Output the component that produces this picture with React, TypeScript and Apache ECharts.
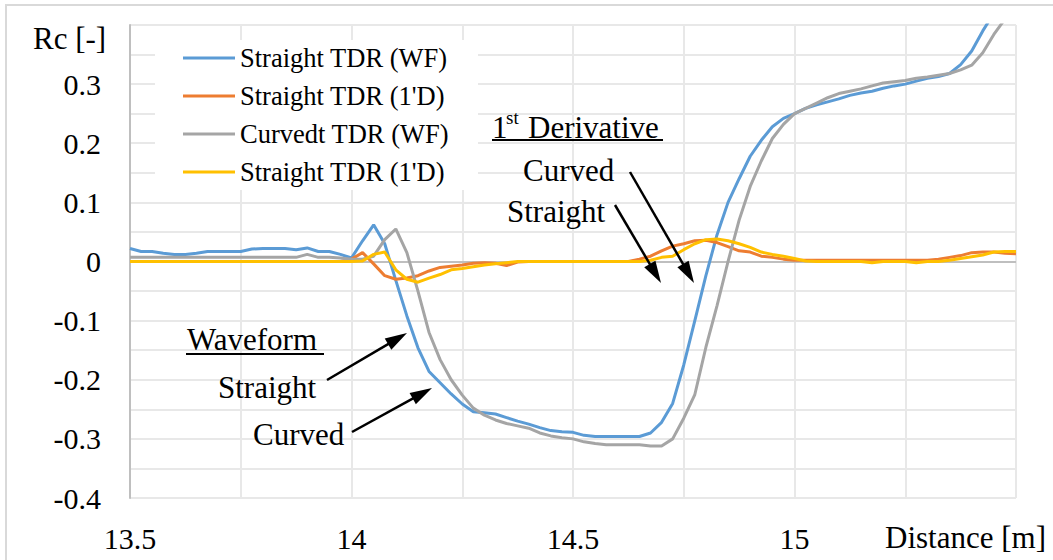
import React, { useEffect, useRef } from "react";
import * as echarts from "echarts";

const XS = [
  13.5, 13.525, 13.55, 13.575, 13.6, 13.625, 13.65, 13.675, 13.7, 13.725,
  13.75, 13.775, 13.8, 13.825, 13.85, 13.875, 13.9, 13.925, 13.95, 13.975,
  14.0, 14.025, 14.05, 14.075, 14.1, 14.125, 14.15, 14.175, 14.2, 14.225,
  14.25, 14.275, 14.3, 14.325, 14.35, 14.375, 14.4, 14.425, 14.45, 14.475,
  14.5, 14.525, 14.55, 14.575, 14.6, 14.625, 14.65, 14.675, 14.7, 14.725,
  14.75, 14.775, 14.8, 14.825, 14.85, 14.875, 14.9, 14.925, 14.95, 14.975,
  15.0, 15.025, 15.05, 15.075, 15.1, 15.125, 15.15, 15.175, 15.2, 15.225,
  15.25, 15.275, 15.3, 15.325, 15.35, 15.375, 15.4, 15.425, 15.45, 15.475,
  15.5,
];

const STRAIGHT_WF = [
  0.022, 0.017, 0.017, 0.014, 0.012, 0.012, 0.014, 0.017, 0.017, 0.017,
  0.017, 0.021, 0.022, 0.022, 0.022, 0.02, 0.023, 0.017, 0.017, 0.012,
  0.006, 0.035, 0.062, 0.03, -0.032, -0.092, -0.146, -0.186, -0.205, -0.224,
  -0.241, -0.254, -0.256, -0.258, -0.264, -0.27, -0.275, -0.281, -0.286, -0.288,
  -0.289, -0.294, -0.296, -0.296, -0.296, -0.296, -0.296, -0.29, -0.272, -0.24,
  -0.175, -0.1, -0.024, 0.045, 0.1, 0.14, 0.178, 0.205, 0.228, 0.242,
  0.25, 0.259, 0.265, 0.27, 0.275, 0.281, 0.285, 0.288, 0.293, 0.297,
  0.3, 0.305, 0.31, 0.313, 0.318, 0.333, 0.356, 0.39, 0.42, 0.45,
  0.48,
];

const STRAIGHT_1D = [
  0, 0, 0, 0, 0, 0, 0, 0, 0, 0,
  0, 0, 0, 0, 0, 0, 0, 0, 0, 0,
  0.004, 0.015, -0.004, -0.024, -0.03, -0.028, -0.024, -0.016, -0.01, -0.008,
  -0.006, -0.003, -0.002, -0.003, -0.007, -0.001, 0, 0, 0, 0,
  0, 0, 0, 0, 0, 0, 0.004, 0.009, 0.018, 0.026,
  0.03, 0.035, 0.036, 0.032, 0.025, 0.018, 0.016, 0.009, 0.007, 0.004,
  0.002, 0.002, 0.002, 0.002, 0.002, 0.002, 0.002, 0.002, 0.002, 0.002,
  0.002, 0.002, 0.002, 0.004, 0.007, 0.01, 0.015, 0.016, 0.016, 0.014,
  0.013,
];

const CURVED_WF = [
  0.007, 0.007, 0.007, 0.007, 0.007, 0.007, 0.007, 0.007, 0.007, 0.007,
  0.007, 0.007, 0.007, 0.007, 0.007, 0.007, 0.012, 0.007, 0.007, 0.006,
  0.004, 0.004, 0.009, 0.037, 0.055, 0.015, -0.05, -0.12, -0.166, -0.2,
  -0.226, -0.248, -0.26, -0.268, -0.274, -0.278, -0.282, -0.29, -0.295, -0.298,
  -0.3, -0.305, -0.308, -0.31, -0.31, -0.31, -0.31, -0.312, -0.312, -0.3,
  -0.265, -0.225, -0.145, -0.075, 0.0, 0.07, 0.127, 0.17, 0.208, 0.232,
  0.25, 0.259, 0.268, 0.277, 0.284, 0.288, 0.292, 0.297, 0.302, 0.304,
  0.306, 0.31, 0.312, 0.315, 0.318, 0.324, 0.332, 0.353, 0.384, 0.41,
  0.44,
];

const CURVED_1D = [
  0, 0, 0, 0, 0, 0, 0, 0, 0, 0,
  0, 0, 0, 0, 0, 0, 0, 0, 0, 0,
  0, 0.001, 0.012, 0.016, -0.014, -0.03, -0.035, -0.028, -0.022, -0.014,
  -0.012, -0.009, -0.006, -0.004, -0.002, 0, 0, 0, 0, 0,
  0, 0, 0, 0, 0, 0, 0, 0.002, 0.007, 0.009,
  0.02, 0.03, 0.037, 0.038, 0.035, 0.03, 0.024, 0.016, 0.012, 0.009,
  0.005, 0.001, 0, 0, 0, 0, 0, -0.002, 0, 0,
  0, -0.002, 0, 0, 0.002, 0.005, 0.008, 0.011, 0.016, 0.017,
  0.017,
];

const SERIES_NAMES = [
  "Straight TDR (WF)",
  "Straight TDR (1'D)",
  "Curvedt TDR (WF)",
  "Straight TDR (1'D) ",
];
const SERIES_COLORS = ["#5B9BD5", "#ED7D31", "#A5A5A5", "#FFC000"];
const SERIES_VALUES = [STRAIGHT_WF, STRAIGHT_1D, CURVED_WF, CURVED_1D];

const X_LABELS = [13.5, 14, 14.5, 15];
const Y_LABELS = [-0.4, -0.3, -0.2, -0.1, 0, 0.1, 0.2, 0.3];

const FONT = "Liberation Serif";

function arrowEls(x1: number, y1: number, x2: number, y2: number) {
  const dx = x2 - x1;
  const dy = y2 - y1;
  const L = Math.hypot(dx, dy);
  const ux = dx / L;
  const uy = dy / L;
  const head = 22;
  const half = 6.5;
  const bx = x2 - ux * head;
  const by = y2 - uy * head;
  return [
    {
      type: "line",
      shape: { x1, y1, x2: bx + ux * 3, y2: by + uy * 3 },
      style: { stroke: "#000", lineWidth: 2.5 },
      z: 100,
    },
    {
      type: "polygon",
      shape: {
        points: [
          [x2, y2],
          [bx - uy * half, by + ux * half],
          [bx + uy * half, by - ux * half],
        ],
      },
      style: { fill: "#000" },
      z: 100,
    },
  ];
}

function txt(text: string, x: number, y: number, size = 31) {
  return {
    type: "text",
    x,
    y,
    z: 100,
    style: {
      text,
      fill: "#000",
      fontSize: size,
      fontFamily: FONT,
      align: "left",
      verticalAlign: "middle",
      textAlign: "left",
      textVerticalAlign: "middle",
    },
  };
}

function hline(x1: number, x2: number, y: number) {
  return {
    type: "line",
    shape: { x1, y1: y, x2, y2: y },
    style: { stroke: "#000", lineWidth: 2 },
    z: 100,
  };
}

export default function App() {
  const ref = useRef<HTMLDivElement>(null);

  useEffect(() => {
    if (!ref.current) return;
    const chart = echarts.init(ref.current, null, { renderer: "svg" });

    const series: any[] = SERIES_NAMES.map((name, i) => ({
      name,
      type: "line",
      data: XS.map((x, j) => [x, SERIES_VALUES[i][j]]),
      showSymbol: false,
      symbol: "none",
      lineStyle: { color: SERIES_COLORS[i], width: 3 },
      itemStyle: { color: SERIES_COLORS[i] },
      z: 3 + i,
    }));
    series[0].markLine = {
      silent: true,
      symbol: "none",
      label: { show: false },
      lineStyle: { color: "#BFBFBF", width: 2, type: "solid" },
      data: [{ yAxis: 0 }],
      z: 2,
    };

    chart.setOption({
      animation: false,
      backgroundColor: "#fff",
      textStyle: { fontFamily: FONT },
      grid: { left: 130, top: 25, width: 886, height: 473, containLabel: false },
      xAxis: {
        type: "value",
        min: 13.5,
        max: 15.5,
        interval: 0.25,
        axisLine: { show: false, onZero: false },
        axisTick: { show: false },
        splitLine: { show: true, lineStyle: { color: "#E8E8E8", width: 2 } },
        axisLabel: {
          fontSize: 30,
          fontFamily: FONT,
          color: "#000",
          margin: 25,
          formatter: (v: number) => {
            const hit = X_LABELS.find((t) => Math.abs(t - v) < 1e-6);
            return hit === undefined ? "" : String(hit);
          },
        },
      },
      yAxis: {
        type: "value",
        min: -0.4,
        max: 0.4,
        interval: 0.05,
        axisLine: { show: true, onZero: false, lineStyle: { color: "#BFBFBF", width: 2 } },
        axisTick: { show: false },
        splitLine: { show: true, lineStyle: { color: "#E8E8E8", width: 2 } },
        axisLabel: {
          fontSize: 30,
          fontFamily: FONT,
          color: "#000",
          margin: 29,
          padding: [6, 0, 0, 0],
          formatter: (v: number) => {
            const hit = Y_LABELS.find((t) => Math.abs(t - v) < 1e-6);
            return hit === undefined ? "" : String(hit);
          },
        },
      },
      legend: {
        show: true,
        orient: "vertical",
        left: 155,
        top: 40,
        padding: [3, 29, 3, 28],
        backgroundColor: "#fff",
        itemWidth: 52,
        itemHeight: 3,
        itemGap: 8,
        icon: "rect",
        data: SERIES_NAMES,
        formatter: (n: string) => n.trim(),
        textStyle: {
          fontSize: 26.5,
          fontFamily: FONT,
          color: "#000",
          lineHeight: 30,
        },
        z: 10,
      },
      series,
      graphic: [
        {
          type: "rect",
          shape: { x: 6, y: 5, width: 1100, height: 600 },
          style: { fill: "none", stroke: "#D9D9D9", lineWidth: 2 },
          z: 100,
        },
        txt("Rc [-]", 33, 38),
        txt("Distance [m]", 885, 537),
        txt("1", 492, 127),
        txt("st", 506, 117, 19),
        txt("Derivative", 528, 127),
        hline(492, 663, 140),
        txt("Curved", 523, 170),
        txt("Straight", 507, 211),
        txt("Waveform", 187, 339),
        hline(186, 324, 354),
        txt("Straight", 218, 387),
        txt("Curved", 253, 434),
        ...arrowEls(615, 205, 661, 283),
        ...arrowEls(630, 172, 694, 283),
        ...arrowEls(327, 380, 407, 333),
        ...arrowEls(352, 432, 432, 388),
      ],
    });

    return () => chart.dispose();
  }, []);

  return (
    <div
      ref={ref}
      style={{ position: "fixed", left: 0, top: 0, width: 1053, height: 560 }}
    />
  );
}
